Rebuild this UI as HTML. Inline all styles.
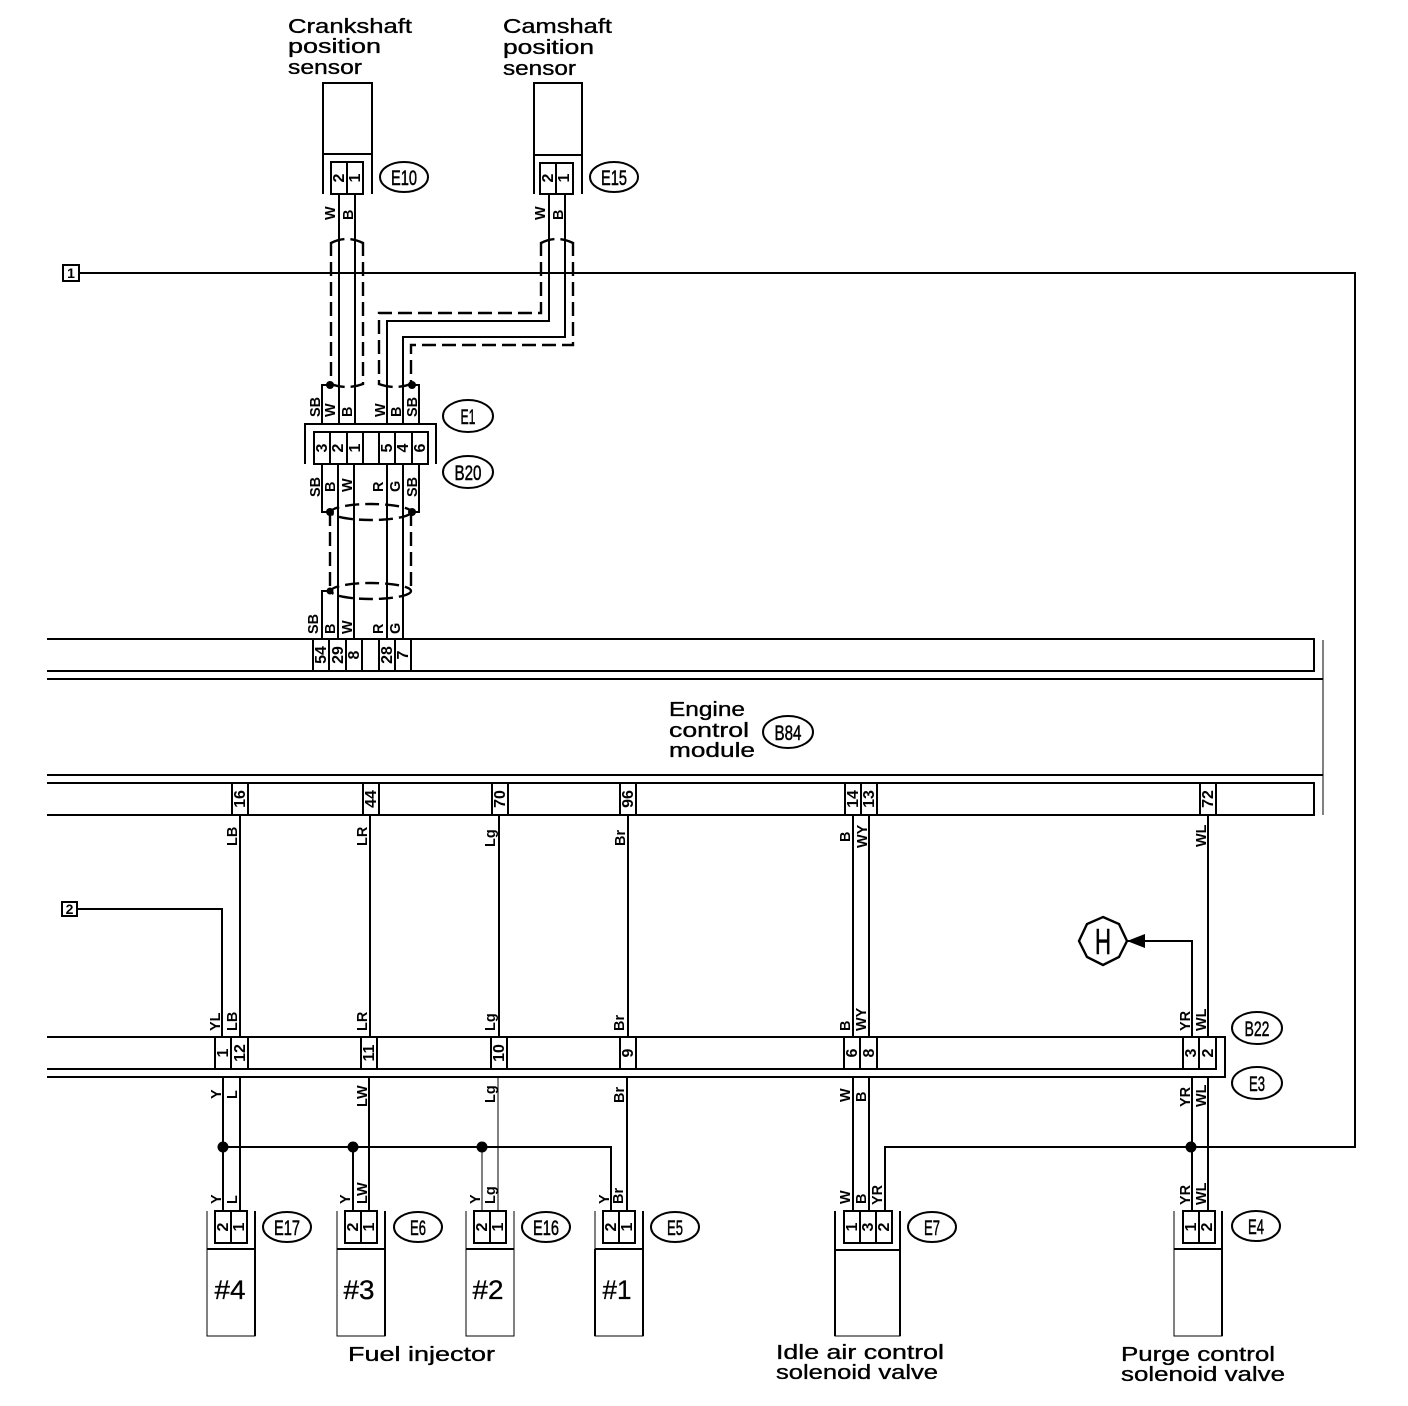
<!DOCTYPE html>
<html><head><meta charset="utf-8"><style>
html,body{margin:0;padding:0;background:#fff}
svg{display:block}
.w{fill:none;stroke:#000;stroke-width:2.4;shape-rendering:crispEdges}
.t{fill:none;stroke:#000;stroke-width:1.2;shape-rendering:crispEdges}
.d{fill:none;stroke:#000;stroke-width:2.4;stroke-dasharray:14 6}
.c{fill:#fff;stroke:#000;stroke-width:2.4;shape-rendering:crispEdges}
text{font-family:"Liberation Sans",sans-serif;fill:#000}
.l{font-size:14.5px;font-weight:bold}
.n{font-size:16px;text-anchor:middle;font-weight:bold}
.h{font-size:20px;stroke:#000;stroke-width:.35}
.o{font-size:21px;text-anchor:middle;stroke:#000;stroke-width:.5}
.x{font-size:27px;text-anchor:middle;stroke:#000;stroke-width:.3}
</style></head><body>
<svg width="1408" height="1406" viewBox="0 0 1408 1406" xmlns="http://www.w3.org/2000/svg">
<rect width="1408" height="1406" fill="#fff"/>
<!-- titles -->
<text class="h" x="288" y="33" textLength="124" lengthAdjust="spacingAndGlyphs">Crankshaft</text>
<text class="h" x="288" y="53" textLength="93" lengthAdjust="spacingAndGlyphs">position</text>
<text class="h" x="288" y="74" textLength="74" lengthAdjust="spacingAndGlyphs">sensor</text>
<text class="h" x="503" y="33" textLength="109" lengthAdjust="spacingAndGlyphs">Camshaft</text>
<text class="h" x="503" y="54" textLength="91" lengthAdjust="spacingAndGlyphs">position</text>
<text class="h" x="503" y="75" textLength="73" lengthAdjust="spacingAndGlyphs">sensor</text>
<text class="h" x="669" y="716" textLength="76" lengthAdjust="spacingAndGlyphs">Engine</text>
<text class="h" x="669" y="737" textLength="80" lengthAdjust="spacingAndGlyphs">control</text>
<text class="h" x="669" y="757" textLength="86" lengthAdjust="spacingAndGlyphs">module</text>
<text class="h" x="348" y="1361" textLength="147" lengthAdjust="spacingAndGlyphs">Fuel injector</text>
<text class="h" x="776" y="1359" textLength="168" lengthAdjust="spacingAndGlyphs">Idle air control</text>
<text class="h" x="776" y="1379" textLength="162" lengthAdjust="spacingAndGlyphs">solenoid valve</text>
<text class="h" x="1121" y="1361" textLength="154" lengthAdjust="spacingAndGlyphs">Purge control</text>
<text class="h" x="1121" y="1381" textLength="164" lengthAdjust="spacingAndGlyphs">solenoid valve</text>

<!-- sensors -->
<path class="w" d="M323 194V83H372V194M323 154H372M534 194V83H582V194M534 155H582"/>
<rect class="c" x="331" y="162" width="32" height="32"/><path class="w" d="M347 162V194"/>
<rect class="c" x="540" y="163" width="33" height="31"/><path class="w" d="M556 163V194"/>

<!-- line 1 and 2 -->
<path class="w" d="M79 273H1355V1147H885V1211"/>
<rect class="c" x="63" y="265" width="16" height="16"/>
<path class="w" d="M77 909H222V1037"/>
<rect class="c" x="62" y="902" width="15" height="14"/>

<!-- shields -->
<path class="d" d="M331 242V385M363 242V385M541 242V313H379V385M573 242V345H411V385"/>
<path class="d" d="M331 243Q347 235 363 243M541 243Q557 235 573 243M331 384Q347 390 363 384M379 384Q395 390 411 384" stroke-dasharray="7 5"/>
<!-- upper wires -->
<path class="w" d="M339 194V424M355 194V424M549 194V321H387V424M565 194V337H403V424M330 385H322V424M412 385H419V424"/>
<circle cx="330" cy="385" r="4"/><circle cx="412" cy="385" r="4"/>

<!-- E1/B20 connector -->
<path class="w" d="M305 464V424H436V464"/>
<rect class="c" x="314" y="432" width="114" height="32"/>
<path class="w" d="M330 432V464M347 432V464M363 432V464M379 432V464M395 432V464M412 432V464"/>

<!-- middle wires -->
<path class="w" d="M338 464V639M354 464V639M387 464V639M403 464V639M322 464V512H330M419 464V512H412"/>
<circle cx="330" cy="512" r="4"/><circle cx="412" cy="512" r="4"/>
<ellipse class="d" cx="371" cy="512" rx="40" ry="8" stroke-dasharray="10 7"/>
<ellipse class="d" cx="371" cy="591" rx="40" ry="8" stroke-dasharray="10 7"/>
<path class="d" d="M330 512V590M411 512V592"/>
<path class="w" d="M330 591H322V639"/>
<circle cx="330" cy="591" r="3.500"/>

<!-- ECM -->
<path class="w" d="M47 639H1314V671H47M47 679H1323M47 775H1323M47 783H1314V815H47"/>
<path class="t" d="M1323 640V815"/>
<path class="w" d="M313 639V671M329 639V671M346 639V671M362 639V671M379 639V671M395 639V671M411 639V671"/>
<path class="w" d="M232 783V815M248 783V815M363 783V815M379 783V815M492 783V815M508 783V815M620 783V815M636 783V815M845 783V815M861 783V815M877 783V815M1200 783V815M1216 783V815"/>

<!-- lower wires -->
<path class="w" d="M240 815V1037M370 815V1037M499 815V1037M628 815V1037M853 815V1037M869 815V1037M1208 815V1037"/>
<path class="w" d="M1192 1037V941H1127"/>
<polygon points="1127,941 1145,934 1145,948"/>
<polygon points="1103,917 1119,924 1127,941 1119,957 1103,965 1087,957 1079,941 1087,924" fill="#fff" stroke="#000" stroke-width="2.4"/>
<text x="1103" y="954" text-anchor="middle" font-size="36" textLength="16" lengthAdjust="spacingAndGlyphs" stroke="#000" stroke-width=".6">H</text>

<!-- B22/E3 -->
<path class="w" d="M47 1037H1216V1069H47M47 1077H1225V1037H1216"/>
<path class="w" d="M215 1037V1069M231 1037V1069M248 1037V1069M361 1037V1069M377 1037V1069M491 1037V1069M507 1037V1069M620 1037V1069M636 1037V1069M844 1037V1069M860 1037V1069M877 1037V1069M1183 1037V1069M1199 1037V1069"/>
<path class="w" d="M223 1077V1211M240 1077V1211M369 1077V1211M627 1077V1211M853 1077V1211M869 1077V1211M1192 1077V1211M1208 1077V1211"/>
<path class="t" d="M498 1077V1211M482 1147V1211"/>
<path class="w" d="M223 1147H611V1211M353 1147V1211"/>
<circle cx="223" cy="1147" r="5.500"/><circle cx="353" cy="1147" r="5.500"/><circle cx="482" cy="1147" r="5.500"/><circle cx="1191" cy="1147" r="5.500"/>

<!-- bottom components -->
<path class="t" d="M207 1211V1336H255V1211M207 1249H255M337 1211V1336H385V1211M337 1249H385M466 1211V1336H514V1211M466 1249H514M595 1211V1336H643V1211M595 1249H643M835 1211V1336H900V1211M835 1250H900M1174 1211V1336H1222V1211M1174 1249H1222"/>
<path class="w" d="M255 1211V1336M385 1211V1336M595 1249V1336M643 1211V1336M835 1211V1336M900 1211V1336M1222 1211V1336M207 1249H255M337 1249H385M466 1249H514M595 1249H643M835 1250H900M1174 1249H1222"/>
<rect class="c" x="215" y="1211" width="32" height="32"/><path class="w" d="M231 1211V1243"/>
<rect class="c" x="345" y="1211" width="32" height="32"/><path class="w" d="M361 1211V1243"/>
<rect class="c" x="474" y="1211" width="32" height="32"/><path class="w" d="M490 1211V1243"/>
<rect class="c" x="603" y="1211" width="32" height="32"/><path class="w" d="M619 1211V1243"/>
<rect class="c" x="844" y="1211" width="48" height="32"/><path class="w" d="M860 1211V1243M876 1211V1243"/>
<rect class="c" x="1183" y="1211" width="32" height="32"/><path class="w" d="M1199 1211V1243"/>
<text class="x" x="230" y="1299" textLength="31" lengthAdjust="spacingAndGlyphs">#4</text>
<text class="x" x="359" y="1299" textLength="31" lengthAdjust="spacingAndGlyphs">#3</text>
<text class="x" x="488" y="1299" textLength="31" lengthAdjust="spacingAndGlyphs">#2</text>
<text class="x" x="617" y="1299" textLength="29" lengthAdjust="spacingAndGlyphs">#1</text>

<!-- ovals -->
<g fill="#fff" stroke="#000" stroke-width="2">
<ellipse cx="404" cy="177" rx="24" ry="15"/><ellipse cx="614" cy="177" rx="24" ry="15"/>
<ellipse cx="468" cy="416" rx="25" ry="16"/><ellipse cx="468" cy="472" rx="25" ry="16"/>
<ellipse cx="788" cy="732" rx="25" ry="16"/>
<ellipse cx="1257" cy="1028" rx="25" ry="16"/><ellipse cx="1257" cy="1083" rx="25" ry="16"/>
<ellipse cx="287" cy="1227" rx="24" ry="15"/><ellipse cx="418" cy="1227" rx="24" ry="15"/>
<ellipse cx="546" cy="1227" rx="24" ry="15"/><ellipse cx="675" cy="1227" rx="24" ry="15"/>
<ellipse cx="932" cy="1227" rx="24" ry="15"/><ellipse cx="1256" cy="1226" rx="24" ry="15"/>
</g>
<g>
<text class="o" x="404" y="185" textLength="26" lengthAdjust="spacingAndGlyphs">E10</text>
<text class="o" x="614" y="185" textLength="26" lengthAdjust="spacingAndGlyphs">E15</text>
<text class="o" x="468" y="424" textLength="15" lengthAdjust="spacingAndGlyphs">E1</text>
<text class="o" x="468" y="480" textLength="27" lengthAdjust="spacingAndGlyphs">B20</text>
<text class="o" x="788" y="740" textLength="27" lengthAdjust="spacingAndGlyphs">B84</text>
<text class="o" x="1257" y="1036" textLength="25" lengthAdjust="spacingAndGlyphs">B22</text>
<text class="o" x="1257" y="1091" textLength="16" lengthAdjust="spacingAndGlyphs">E3</text>
<text class="o" x="287" y="1235" textLength="26" lengthAdjust="spacingAndGlyphs">E17</text>
<text class="o" x="418" y="1235" textLength="16" lengthAdjust="spacingAndGlyphs">E6</text>
<text class="o" x="546" y="1235" textLength="26" lengthAdjust="spacingAndGlyphs">E16</text>
<text class="o" x="675" y="1235" textLength="16" lengthAdjust="spacingAndGlyphs">E5</text>
<text class="o" x="932" y="1235" textLength="16" lengthAdjust="spacingAndGlyphs">E7</text>
<text class="o" x="1256" y="1234" textLength="16" lengthAdjust="spacingAndGlyphs">E4</text>
</g>

<!-- boxed numbers -->
<text x="71" y="278" font-size="14" font-weight="bold" text-anchor="middle">1</text>
<text x="69.500" y="914" font-size="14" font-weight="bold" text-anchor="middle">2</text>

<!-- wire labels -->
<g class="l">
<text transform="translate(335,220) rotate(-90)">W</text><text transform="translate(353,220) rotate(-90)">B</text>
<text transform="translate(545,220) rotate(-90)">W</text><text transform="translate(563,220) rotate(-90)">B</text>

<text transform="translate(320,417) rotate(-90)">SB</text><text transform="translate(335,417) rotate(-90)">W</text><text transform="translate(352,417) rotate(-90)">B</text><text transform="translate(385,417) rotate(-90)">W</text><text transform="translate(401,417) rotate(-90)">B</text><text transform="translate(417,417) rotate(-90)">SB</text>
<text transform="translate(320,497) rotate(-90)">SB</text><text transform="translate(335,492) rotate(-90)">B</text><text transform="translate(352,492) rotate(-90)">W</text><text transform="translate(383,492) rotate(-90)">R</text><text transform="translate(400,492) rotate(-90)">G</text><text transform="translate(417,497) rotate(-90)">SB</text>
<text transform="translate(318,634) rotate(-90)">SB</text><text transform="translate(335,634) rotate(-90)">B</text><text transform="translate(352,634) rotate(-90)">W</text><text transform="translate(383,634) rotate(-90)">R</text><text transform="translate(400,634) rotate(-90)">G</text>

<text transform="translate(237,846) rotate(-90)">LB</text><text transform="translate(367,846) rotate(-90)">LR</text><text transform="translate(495,847) rotate(-90)">Lg</text><text transform="translate(625,846) rotate(-90)">Br</text>
<text transform="translate(850,842) rotate(-90)">B</text><text transform="translate(867,848) rotate(-90)">WY</text><text transform="translate(1206,847) rotate(-90)">WL</text>

<text transform="translate(220,1031) rotate(-90)">YL</text><text transform="translate(237,1031) rotate(-90)">LB</text><text transform="translate(367,1031) rotate(-90)">LR</text><text transform="translate(495,1031) rotate(-90)">Lg</text><text transform="translate(624,1031) rotate(-90)">Br</text>
<text transform="translate(850,1031) rotate(-90)">B</text><text transform="translate(866,1031) rotate(-90)">WY</text><text transform="translate(1190,1031) rotate(-90)">YR</text><text transform="translate(1206,1031) rotate(-90)">WL</text>

<text transform="translate(221,1099) rotate(-90)">Y</text><text transform="translate(237,1099) rotate(-90)">L</text><text transform="translate(367,1107) rotate(-90)">LW</text><text transform="translate(495,1103) rotate(-90)">Lg</text><text transform="translate(624,1103) rotate(-90)">Br</text>
<text transform="translate(850,1102) rotate(-90)">W</text><text transform="translate(866,1102) rotate(-90)">B</text><text transform="translate(1190,1107) rotate(-90)">YR</text><text transform="translate(1206,1107) rotate(-90)">WL</text>

<text transform="translate(221,1204) rotate(-90)">Y</text><text transform="translate(237,1204) rotate(-90)">L</text>
<text transform="translate(350,1204) rotate(-90)">Y</text><text transform="translate(367,1204) rotate(-90)">LW</text>
<text transform="translate(480,1204) rotate(-90)">Y</text><text transform="translate(495,1204) rotate(-90)">Lg</text>
<text transform="translate(609,1204) rotate(-90)">Y</text><text transform="translate(623,1204) rotate(-90)">Br</text>
<text transform="translate(850,1204) rotate(-90)">W</text><text transform="translate(866,1204) rotate(-90)">B</text><text transform="translate(882,1205) rotate(-90)">YR</text>
<text transform="translate(1190,1205) rotate(-90)">YR</text><text transform="translate(1206,1205) rotate(-90)">WL</text>
</g>

<!-- cell numbers -->
<g>
<text class="n" transform="translate(344,178) rotate(-90)">2</text><text class="n" transform="translate(360,178) rotate(-90)">1</text>
<text class="n" transform="translate(553,178) rotate(-90)">2</text><text class="n" transform="translate(569,178) rotate(-90)">1</text>

<text class="n" transform="translate(327,448) rotate(-90)">3</text><text class="n" transform="translate(343,448) rotate(-90)">2</text><text class="n" transform="translate(360,448) rotate(-90)">1</text><text class="n" transform="translate(392,448) rotate(-90)">5</text><text class="n" transform="translate(408,448) rotate(-90)">4</text><text class="n" transform="translate(425,448) rotate(-90)">6</text>

<text class="n" transform="translate(326,655) rotate(-90)">54</text><text class="n" transform="translate(343,655) rotate(-90)">29</text><text class="n" transform="translate(359,655) rotate(-90)">8</text><text class="n" transform="translate(392,655) rotate(-90)">28</text><text class="n" transform="translate(408,655) rotate(-90)">7</text>

<text class="n" transform="translate(245,799) rotate(-90)">16</text><text class="n" transform="translate(376,799) rotate(-90)">44</text><text class="n" transform="translate(505,799) rotate(-90)">70</text><text class="n" transform="translate(633,799) rotate(-90)">96</text><text class="n" transform="translate(858,799) rotate(-90)">14</text><text class="n" transform="translate(874,799) rotate(-90)">13</text><text class="n" transform="translate(1213,799) rotate(-90)">72</text>

<text class="n" transform="translate(228,1053) rotate(-90)">1</text><text class="n" transform="translate(245,1053) rotate(-90)">12</text><text class="n" transform="translate(374,1053) rotate(-90)">11</text><text class="n" transform="translate(504,1053) rotate(-90)">10</text><text class="n" transform="translate(633,1053) rotate(-90)">9</text><text class="n" transform="translate(857,1053) rotate(-90)">6</text><text class="n" transform="translate(874,1053) rotate(-90)">8</text><text class="n" transform="translate(1196,1053) rotate(-90)">3</text><text class="n" transform="translate(1213,1053) rotate(-90)">2</text>

<text class="n" transform="translate(228,1227) rotate(-90)">2</text><text class="n" transform="translate(244,1227) rotate(-90)">1</text>
<text class="n" transform="translate(358,1227) rotate(-90)">2</text><text class="n" transform="translate(374,1227) rotate(-90)">1</text>
<text class="n" transform="translate(487,1227) rotate(-90)">2</text><text class="n" transform="translate(503,1227) rotate(-90)">1</text>
<text class="n" transform="translate(616,1227) rotate(-90)">2</text><text class="n" transform="translate(632,1227) rotate(-90)">1</text>
<text class="n" transform="translate(857,1227) rotate(-90)">1</text><text class="n" transform="translate(873,1227) rotate(-90)">3</text><text class="n" transform="translate(889,1227) rotate(-90)">2</text>
<text class="n" transform="translate(1196,1227) rotate(-90)">1</text><text class="n" transform="translate(1212,1227) rotate(-90)">2</text>
</g>
</svg>
</body></html>
